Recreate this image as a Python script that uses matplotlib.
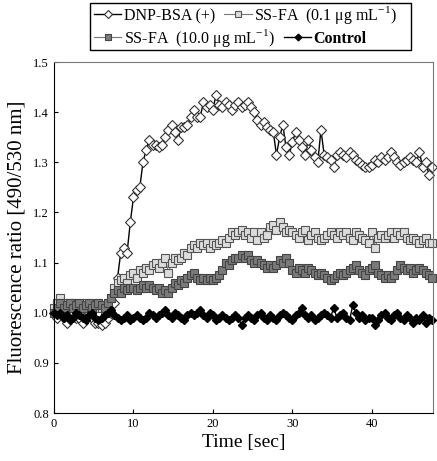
import numpy as np
import matplotlib.pyplot as plt
from matplotlib.patches import Rectangle

plt.rcParams['font.family'] = ['Liberation Serif', 'DejaVu Serif']
plt.rcParams['mathtext.fontset'] = 'custom'
plt.rcParams['mathtext.rm'] = 'Liberation Serif'

# time axis: one reading every 0.4 s
time = np.arange(120) * 0.4

dnp_bsa = [1.00, 0.99, 1.00, 0.99, 0.98, 0.99, 1.00, 0.99, 0.99, 0.98,
           0.99, 1.00, 0.99, 0.98, 0.98, 0.975, 0.98, 0.99, 1.00, 1.02,
           1.07, 1.12, 1.13, 1.12, 1.18, 1.23, 1.245, 1.25, 1.30, 1.325,
           1.345, 1.335, 1.335, 1.33, 1.335, 1.35, 1.365, 1.375, 1.36, 1.345,
           1.37, 1.37, 1.375, 1.39, 1.405, 1.39, 1.39, 1.42, 1.41, 1.415,
           1.405, 1.435, 1.415, 1.41, 1.42, 1.415, 1.405, 1.415, 1.42, 1.41,
           1.415, 1.42, 1.41, 1.40, 1.385, 1.375, 1.38, 1.37, 1.365, 1.36,
           1.315, 1.35, 1.375, 1.33, 1.315, 1.34, 1.36, 1.345, 1.33, 1.315,
           1.345, 1.325, 1.31, 1.30, 1.365, 1.315, 1.31, 1.305, 1.29, 1.315,
           1.32, 1.315, 1.31, 1.32, 1.315, 1.305, 1.30, 1.295, 1.29, 1.29,
           1.295, 1.305, 1.30, 1.31, 1.305, 1.31, 1.32, 1.31, 1.30, 1.295,
           1.30, 1.305, 1.31, 1.305, 1.30, 1.32, 1.29, 1.30, 1.275, 1.29]

ssfa_low = [1.01, 1.02, 1.03, 1.02, 1.01, 1.02, 1.01, 1.02, 1.00, 1.01,
            1.02, 1.01, 1.00, 1.01, 1.02, 1.01, 1.00, 1.01, 1.03, 1.05,
            1.06, 1.065, 1.07, 1.06, 1.075, 1.08, 1.07, 1.085, 1.08, 1.09,
            1.085, 1.095, 1.10, 1.09, 1.10, 1.11, 1.08, 1.10, 1.11, 1.105,
            1.11, 1.12, 1.115, 1.13, 1.135, 1.13, 1.14, 1.135, 1.14, 1.13,
            1.14, 1.135, 1.14, 1.145, 1.14, 1.15, 1.16, 1.155, 1.16, 1.165,
            1.155, 1.16, 1.15, 1.16, 1.145, 1.16, 1.15, 1.155, 1.17, 1.175,
            1.165, 1.18, 1.17, 1.16, 1.165, 1.16, 1.155, 1.15, 1.16, 1.165,
            1.145, 1.155, 1.16, 1.15, 1.145, 1.15, 1.155, 1.16, 1.155, 1.15,
            1.16, 1.155, 1.16, 1.15, 1.145, 1.16, 1.155, 1.15, 1.145, 1.14,
            1.16, 1.13, 1.15, 1.155, 1.15, 1.155, 1.16, 1.15, 1.16, 1.155,
            1.16, 1.15, 1.145, 1.15, 1.145, 1.14, 1.145, 1.15, 1.14, 1.14]

ssfa_high = [1.00, 1.01, 1.02, 1.01, 1.015, 1.02, 1.01, 1.015, 1.02, 1.01,
             1.015, 1.02, 1.01, 1.015, 1.02, 1.015, 1.01, 1.02, 1.03, 1.04,
             1.045, 1.04, 1.05, 1.045, 1.05, 1.05, 1.045, 1.05, 1.055, 1.05,
             1.055, 1.05, 1.045, 1.05, 1.04, 1.045, 1.04, 1.05, 1.06, 1.055,
             1.065, 1.06, 1.07, 1.075, 1.08, 1.07, 1.065, 1.07, 1.065, 1.07,
             1.065, 1.07, 1.075, 1.085, 1.10, 1.095, 1.105, 1.11, 1.11, 1.115,
             1.11, 1.115, 1.105, 1.10, 1.105, 1.10, 1.095, 1.09, 1.095, 1.09,
             1.095, 1.105, 1.10, 1.11, 1.10, 1.085, 1.08, 1.09, 1.085, 1.08,
             1.09, 1.085, 1.08, 1.075, 1.08, 1.075, 1.07, 1.065, 1.07, 1.075,
             1.08, 1.075, 1.08, 1.085, 1.09, 1.095, 1.085, 1.08, 1.075, 1.085,
             1.09, 1.095, 1.08, 1.075, 1.07, 1.075, 1.07, 1.075, 1.085, 1.095,
             1.09, 1.085, 1.09, 1.08, 1.085, 1.09, 1.085, 1.08, 1.075, 1.07]

control = [1.00, 0.995, 1.00, 0.99, 0.995, 0.985, 0.99, 1.00, 0.995, 0.99,
           0.985, 0.995, 1.00, 0.99, 0.985, 0.99, 0.995, 1.00, 1.005, 0.995,
           0.99, 0.985, 0.99, 0.995, 0.985, 0.99, 0.995, 0.99, 0.985, 0.99,
           1.00, 0.995, 0.99, 0.995, 1.00, 1.005, 0.995, 0.99, 1.00, 0.995,
           0.99, 0.985, 0.995, 1.00, 0.995, 1.00, 1.005, 0.995, 0.99, 1.00,
           0.995, 0.985, 0.99, 0.995, 0.99, 0.985, 0.99, 0.995, 0.99, 0.975,
           0.99, 0.995, 0.99, 0.985, 0.995, 1.00, 0.99, 0.985, 0.995, 0.99,
           0.985, 0.995, 1.00, 0.995, 0.99, 0.985, 0.995, 1.00, 1.01, 0.995,
           0.99, 0.995, 0.985, 0.99, 0.995, 1.00, 0.995, 0.99, 1.01, 0.99,
           0.995, 1.00, 0.99, 0.985, 1.015, 1.00, 0.99, 0.995, 0.985, 0.99,
           0.99, 0.975, 0.985, 0.995, 1.00, 0.99, 0.985, 0.995, 1.00, 0.99,
           0.985, 0.995, 0.99, 0.98, 0.99, 0.985, 0.995, 0.98, 0.99, 0.985]

labels = ['DNP-BSA (+)',
          r'SS-FA  (0.1 μg mL$^{\mathregular{-1}}$)',
          r'SS-FA  (10.0 μg mL$^{\mathregular{-1}}$)',
          'Control']

fig = plt.figure(figsize=(4.37, 4.61), dpi=100)
ax = fig.add_axes([54 / 437, 48 / 461, 379 / 437, 351 / 461])

h1, = ax.plot(time, dnp_bsa, color='black', lw=1.0, marker='D', ms=5,
              mfc='white', mec='#333333', mew=0.8, label=labels[0], clip_on=False)
h2, = ax.plot(time, ssfa_low, color='#777777', lw=0.8, marker='s', ms=6,
              mfc='#dcdcdc', mec='#555555', mew=0.8, label=labels[1], clip_on=False)
h3, = ax.plot(time, ssfa_high, color='#777777', lw=0.8, marker='s', ms=6,
              mfc='#7a7a7a', mec='#444444', mew=0.8, label=labels[2], clip_on=False)
h4, = ax.plot(time, control, color='black', lw=1.0, marker='D', ms=4.5,
              mfc='black', mec='black', label=labels[3], clip_on=False)

ax.set_xlim(0, 47.7)
ax.set_ylim(0.8, 1.5)
ax.set_xticks([0, 10, 20, 30, 40])
ax.set_yticks(np.arange(0.8, 1.51, 0.1))
ax.yaxis.set_major_formatter(plt.FormatStrFormatter('%.1f'))
ax.tick_params(direction='in', labelsize=9, length=3, width=0.8)
ax.set_xlabel('Time [sec]', fontsize=14, labelpad=3)
ax.set_ylabel('Fluorescence ratio [490/530 nm]', fontsize=15, labelpad=5)
ax.spines['top'].set_color('#777777')
ax.spines['right'].set_color('#777777')

# legend: two rows whose entries are not column-aligned, in one black frame
leg_kw = dict(ncol=2, loc='center left', fontsize=11.5, frameon=False,
              handlelength=1.7, handletextpad=0.15, columnspacing=0.6,
              borderpad=0, borderaxespad=0, markerscale=0.75)
row1 = fig.legend([h1, h2], labels[:2], bbox_to_anchor=(94 / 437, 1 - 15 / 461), **leg_kw)
row2 = fig.legend([h3, h4], labels[2:], bbox_to_anchor=(94 / 437, 1 - 38 / 461), **leg_kw)
row2.get_texts()[1].set_fontweight('bold')
fig.add_artist(Rectangle((90 / 437, 1 - 50 / 461), 321 / 437, 47 / 461,
                         transform=fig.transFigure, fill=False,
                         edgecolor='black', lw=1.0))

fig.savefig('out.png', dpi=100)
